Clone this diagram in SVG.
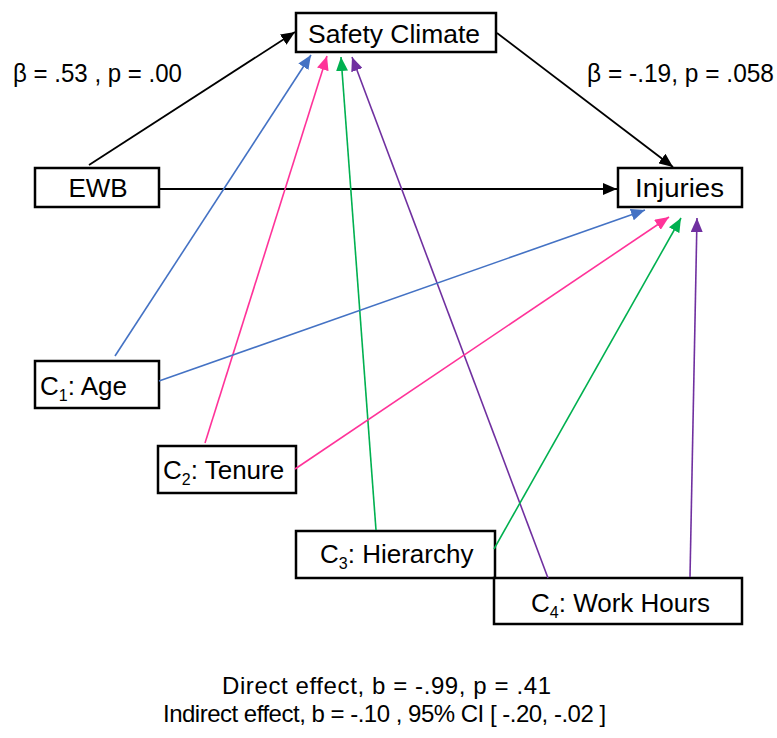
<svg xmlns="http://www.w3.org/2000/svg" width="777" height="738" viewBox="0 0 777 738">
<style>
.box{fill:#fff;stroke:#000;stroke-width:2.5}
.t{font-family:"Liberation Sans",Arial,sans-serif;font-size:25px;fill:#000}
.n{font-size:26px}
.sub{font-size:16px}
.bt{font-size:24px}
.c{fill:none;stroke-width:1.6}
.k{stroke:#000;stroke-width:1.8}
.b{stroke:#4472C4}
.p{stroke:#FF3399}
.g{stroke:#00B050}
.v{stroke:#7030A0}
</style>
<defs>
<marker id="mk" markerUnits="userSpaceOnUse" markerWidth="14" markerHeight="12" refX="14" refY="6" orient="auto"><path d="M0,0 L14,6 L0,12 z" fill="#000"/></marker>
<marker id="mb" markerUnits="userSpaceOnUse" markerWidth="14" markerHeight="12" refX="14" refY="6" orient="auto"><path d="M0,0 L14,6 L0,12 z" fill="#4472C4"/></marker>
<marker id="mp" markerUnits="userSpaceOnUse" markerWidth="14" markerHeight="12" refX="14" refY="6" orient="auto"><path d="M0,0 L14,6 L0,12 z" fill="#FF3399"/></marker>
<marker id="mg" markerUnits="userSpaceOnUse" markerWidth="14" markerHeight="12" refX="14" refY="6" orient="auto"><path d="M0,0 L14,6 L0,12 z" fill="#00B050"/></marker>
<marker id="mv" markerUnits="userSpaceOnUse" markerWidth="14" markerHeight="12" refX="14" refY="6" orient="auto"><path d="M0,0 L14,6 L0,12 z" fill="#7030A0"/></marker>
</defs>
<rect width="777" height="738" fill="#fff"/>

<g id="nodes">
<g id="safety-climate"><rect class="box" x="296" y="13" width="200" height="39"/><text class="t n" x="308" y="43" textLength="172" lengthAdjust="spacingAndGlyphs">Safety Climate</text></g>
<g id="ewb"><rect class="box" x="35" y="168" width="124" height="39"/><text class="t n" x="98" y="197" text-anchor="middle">EWB</text></g>
<g id="injuries"><rect class="box" x="618" y="168" width="124" height="39"/><text class="t n" x="635" y="197" textLength="89" lengthAdjust="spacingAndGlyphs">Injuries</text></g>
<g id="c1-age"><rect class="box" x="35" y="361" width="124" height="47"/><text class="t n" x="40" y="395">C<tspan class="sub" dy="6">1</tspan><tspan dy="-6">: Age</tspan></text></g>
<g id="c2-tenure"><rect class="box" x="158" y="446" width="138" height="47"/><text class="t n" x="163" y="479">C<tspan class="sub" dy="6">2</tspan><tspan dy="-6">: Tenure</tspan></text></g>
<g id="c3-hierarchy"><rect class="box" x="296" y="531" width="199" height="47"/><text class="t n" x="320" y="563">C<tspan class="sub" dy="6">3</tspan><tspan dy="-6">: Hierarchy</tspan></text></g>
<g id="c4-work-hours"><rect class="box" x="494" y="578" width="248" height="46"/><text class="t n" x="531" y="612">C<tspan class="sub" dy="6">4</tspan><tspan dy="-6">: Work Hours</tspan></text></g>
</g>

<g id="connectors">
<line class="c k" x1="89" y1="165" x2="295" y2="32" marker-end="url(#mk)"/>
<line class="c k" x1="497" y1="33" x2="673" y2="167" marker-end="url(#mk)"/>
<line class="c k" x1="159" y1="189" x2="617" y2="189" marker-end="url(#mk)"/>
<line class="c b" x1="115" y1="356" x2="311" y2="55" marker-end="url(#mb)"/>
<line class="c p" x1="205" y1="443" x2="327" y2="56" marker-end="url(#mp)"/>
<line class="c g" x1="376" y1="530" x2="341" y2="57" marker-end="url(#mg)"/>
<line class="c v" x1="548" y1="578" x2="352" y2="57" marker-end="url(#mv)"/>
<line class="c b" x1="159" y1="381" x2="645" y2="210" marker-end="url(#mb)"/>
<line class="c p" x1="295" y1="469" x2="669" y2="217" marker-end="url(#mp)"/>
<line class="c g" x1="494" y1="549" x2="681" y2="218" marker-end="url(#mg)"/>
<line class="c v" x1="690" y1="577" x2="697" y2="218" marker-end="url(#mv)"/>
</g>

<g id="labels">
<text class="t" x="13" y="82" textLength="169" lengthAdjust="spacingAndGlyphs">β = .53 , p = .00</text>
<text class="t" x="587" y="82" textLength="187" lengthAdjust="spacingAndGlyphs">β = -.19, p = .058</text>
<text class="t bt" x="222" y="694" letter-spacing="0.6">Direct effect, b = -.99, p = .41</text>
<text class="t bt" x="163" y="722" letter-spacing="-0.5">Indirect effect, b = -.10 , 95% CI [ -.20, -.02 ]</text>
</g>
</svg>
